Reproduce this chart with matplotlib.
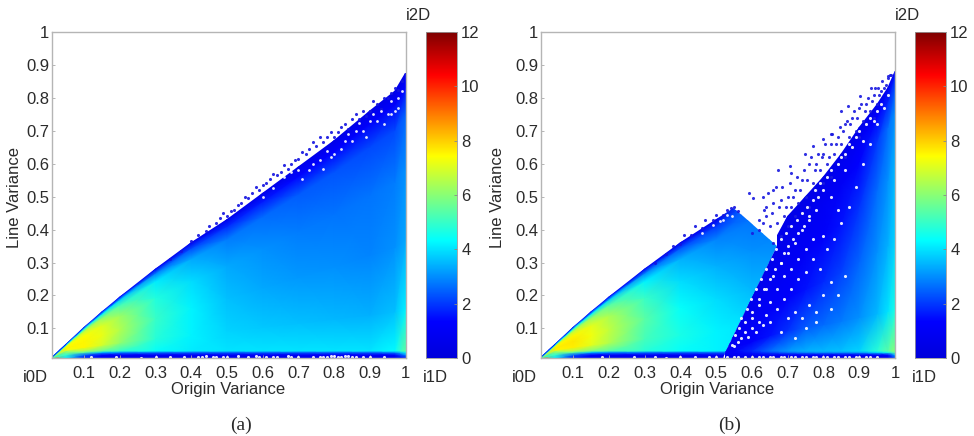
import numpy as np
import matplotlib
matplotlib.use('Agg')
import matplotlib.pyplot as plt
from matplotlib.colors import LinearSegmentedColormap
from matplotlib.patches import Polygon

plt.rcParams['font.family'] = ['Liberation Sans', 'DejaVu Sans']

CMAP = LinearSegmentedColormap.from_list('jet_blue', [
    (0, '#0000dc'), (.11, '#0000ff'), (.36, '#00ffff'), (.62, '#ffff00'), (.87, '#ff0000'), (1, '#800000')])

# ---- shared mesh rows ----
band_rows = [0.01, 0.02, 0.028]
frac_rows = [0, 0.15, 0.4, 0.65, 0.85, 0.95, 1.0]

# ---- panel (a) ----
a_x = [0.01, 0.05, 0.1, 0.15, 0.2, 0.3, 0.4, 0.5, 0.6, 0.7, 0.8, 0.9, 0.97, 1.0]
a_edge = [0.012, 0.052, 0.103, 0.15, 0.195, 0.28, 0.36, 0.43, 0.51, 0.59, 0.67, 0.76, 0.82, 0.875]
a_band = [
    [9, 4, 1.5, .8, .5, .5, .5, .5, .5, .5, .5, .5, .7, 1.5],
    [5, 5, 2.5, 1.2, 1, 1, 1, 1, 1, 1, 1, 1, 1.2, 3],
    [4, 6, 5.5, 3.6, 3, 2.8, 2.6, 2.6, 2.6, 2.6, 2.6, 2.6, 3, 4.5],
]
a_vals = [
    [4, 6.4, 6.4, 5.6, 5, 4.4, 4.1, 4, 4, 4, 4, 4, 4.3, 5.5],
    [5, 7.3, 7.5, 6.9, 6.1, 4.8, 4.2, 3.8, 3.7, 3.6, 3.5, 3.4, 3.6, 4.2],
    [5.5, 7.5, 7.5, 7.2, 6.5, 5, 4.2, 3.6, 3.3, 3.1, 3, 2.9, 3, 3.3],
    [5.5, 7.4, 7.4, 7, 6.2, 4.7, 3.9, 3.3, 3, 2.8, 2.7, 2.7, 2.8, 3],
    [5, 6.5, 6.6, 6, 5.2, 4.1, 3.3, 2.8, 2.6, 2.4, 2.3, 2.2, 2.2, 2.5],
    [3.5, 4.5, 4.6, 4.2, 3.8, 2.8, 2.2, 1.8, 1.6, 1.4, 1.3, 1.2, 1.2, 1.4],
    [1.2, 1.6, 1.6, 1.4, 1.3, 1, .8, .7, .6, .6, .5, .5, .5, .6],
]
a_blue_x = [.34, .37, .40, .42, .45, .47, .49, .51, .53, .55, .56, .58, .60, .62, .63, .65, .66, .68, .70,
            .72, .74, .75, .77, .79, .80, .82, .84, .85, .87, .89, .90, .92, .93, .95, .96, .98, .99,
            .44, .48, .50, .52, .54, .57, .59, .61, .64, .67, .69, .71, .73, .76, .78, .81, .83, .86, .88, .91, .94, .97]
a_blue_y = [.31, .335, .365, .385, .41, .42, .45, .455, .475, .50, .495, .53, .535, .555, .57, .575, .595, .60, .615,
            .63, .665, .655, .665, .695, .68, .71, .705, .735, .735, .745, .76, .78, .765, .80, .815, .825, .85,
            .395, .435, .44, .46, .48, .51, .52, .54, .565, .585, .61, .635, .645, .68, .68, .695, .72, .75, .76, .79, .80, .83]
a_white_x = [.60, .66, .70, .73, .76, .78, .80, .83, .85, .86, .88, .90, .92, .93, .95, .96, .97, .98, .99,
             .63, .68, .71, .74, .77, .79, .82, .84, .87, .89, .91, .94, .96, .98]
a_white_y = [.50, .56, .58, .58, .61, .64, .63, .67, .67, .70, .70, .73, .73, .76, .75, .79, .76, .80, .82,
             .525, .575, .555, .60, .585, .62, .645, .69, .725, .68, .75, .72, .75, .77]
a_bot_x = [.12, .19, .26, .30, .34, .38, .42, .44, .47, .50, .53, .56, .58, .61, .64, .67, .70, .74, .77, .79, .81, .83, .85, .88, .90, .94,
           .43, .46, .49, .59, .63, .68, .76, .78, .80, .82, .84, .86]
a_bot_y = [.012, .012, .011, .013, .012, .014, .012, .016, .013, .012, .015, .012, .016, .012, .013, .015, .012, .012, .013, .016, .013, .015, .013, .012, .014, .012,
           .012, .012, .014, .012, .012, .012, .012, .012, .016, .012, .016, .012]

# ---- panel (b), left of the cut ----
bl_x = [0.01, 0.05, 0.1, 0.15, 0.2, 0.3, 0.4, 0.5, 0.6, 0.7]
bl_edge = [0.012, 0.052, 0.103, 0.15, 0.195, 0.28, 0.36, 0.43, 0.50, 0.60]
bl_band = [
    [9, 4, 1.5, .8, .5, .5, .5, .5, .5, .5],
    [5, 5, 2.5, 1.2, 1, 1, 1, 1, 1, 1],
    [4, 6, 5.5, 3.6, 3, 2.8, 2.6, 2.6, 2.6, 2.6],
]
bl_vals = [
    [4, 6.6, 6.6, 5.9, 5.4, 4.8, 4.4, 4.2, 4, 4],
    [5, 7.5, 7.6, 7.1, 6.5, 5.2, 4.6, 4.2, 4, 3.8],
    [5.5, 7.6, 7.7, 7.3, 6.7, 5.4, 4.4, 3.9, 3.5, 3.3],
    [5.5, 7.5, 7.5, 7.1, 6.4, 5, 3.9, 3.4, 3, 2.8],
    [5, 6.5, 6.6, 6.1, 5.4, 4.2, 3.4, 2.9, 2.7, 2.6],
    [3.5, 4.5, 4.6, 4.2, 3.8, 2.9, 2.3, 2, 2.6, 2.6],
    [1.2, 1.6, 1.6, 1.4, 1.3, 1, .8, .7, 2.5, 2.5],
]
bl_blue_x = [.33, .36, .38, .40, .41, .43, .44, .46, .47, .49, .50, .52, .53, .54, .55, .56]
bl_blue_y = [.30, .325, .35, .355, .385, .385, .41, .405, .43, .43, .445, .445, .46, .465, .47, .455]
bl_white_x = [.46, .49, .51, .52, .53, .545]
bl_white_y = [.39, .415, .425, .43, .445, .44]
bl_bot_x = [.18, .27, .33, .36, .40, .44, .48, .50, .53, .55]
bl_bot_y = [.012, .012, .013, .011, .012, .014, .012, .013, .014, .012]
bl_cut_x = [0.0, 0.515, 0.525, 0.67, 0.575, 0.545, 0.545, 0.0]
bl_cut_y = [0.0, 0.0, 0.025, 0.35, 0.44, 0.47, 1.0, 1.0]

# ---- panel (b), right of the cut ----
br_x = [.5, .55, .6, .65, .7, .75, .8, .85, .9, .95, .98, 1]
br_edge = [.03, .10, .22, .34, .44, .50, .56, .63, .71, .78, .83, .88]
br_band = [
    [.5, .5, .5, .5, .5, .5, .5, .5, .5, .5, .7, 2],
    [.8, .9, 1, 1, 1, 1, 1, 1, 1, 1, 1.4, 3.5],
    [1, 1.2, 1.6, 2.2, 2.7, 3, 3.1, 3.1, 3.3, 4, 4.6, 5.6],
]
br_vals = [
    [1, 1.2, 1.8, 2.6, 3.1, 3.4, 3.5, 3.6, 3.8, 4.8, 5.4, 6],
    [.9, 1, 1.2, 1.5, 1.9, 2.4, 2.6, 2.8, 3, 3.5, 4, 4.6],
    [.8, .9, 1, 1.1, 1.2, 1.5, 1.8, 2.1, 2.5, 3, 3.4, 3.8],
    [.7, .8, .8, .9, .9, 1, 1.2, 1.5, 1.9, 2.6, 3, 3.5],
    [.6, .6, .7, .7, .7, .8, .9, 1, 1.3, 2, 2.6, 3],
    [.5, .5, .6, .6, .6, .6, .7, .8, .9, 1.3, 1.7, 2.2],
    [.5, .5, .5, .5, .5, .5, .5, .5, .6, .7, .8, 1.3],
]
br_cut_x = [.525, .67, .67, 1.0, 1.0, .525]
br_cut_y = [.025, .35, 1.0, 1.0, 0.0, 0.0]
br_blue_x = [.593, .602, .644, .633, .63, .668, .672, .71, .705, .747, .771, .799, .822, .85, .869, .902, .934, .953, .981,
             .60, .62, .64, .65, .66, .67, .68, .69, .70, .71, .72, .73, .74, .75, .76, .77, .78, .79, .80,
             .81, .82, .83, .84, .85, .86, .87, .88, .89, .90, .91, .92, .93, .94, .95, .96, .97, .98, .99,
             .66, .68, .70, .72, .74, .76, .78, .80, .82, .84, .86, .88, .90, .92, .94, .96,
             .62, .63, .64, .655, .66, .675, .685, .695, .705, .715, .725, .735, .745, .755, .765, .775, .785, .795,
             .805, .815, .825, .835, .845, .855, .865, .875, .885, .895, .905, .915, .925, .935, .945, .955, .965, .975, .985]
br_blue_y = [.511, .496, .511, .46, .42, .53, .582, .572, .592, .628, .653, .674, .689, .76, .775, .806, .831, .831, .866,
             .39, .40, .44, .41, .48, .42, .49, .44, .50, .47, .52, .48, .55, .50, .60, .54, .60, .58, .63,
             .60, .66, .63, .68, .66, .72, .68, .74, .70, .77, .73, .78, .76, .81, .78, .82, .83, .86, .87,
             .36, .38, .41, .44, .45, .47, .52, .54, .56, .60, .62, .65, .68, .72, .74, .78,
             .43, .50, .47, .45, .52, .47, .53, .47, .54, .50, .56, .52, .58, .55, .62, .58, .63, .62,
             .66, .62, .69, .66, .71, .70, .73, .72, .76, .74, .78, .76, .80, .79, .83, .81, .85, .84, .87]
br_white_x = [.60, .62, .64, .65, .66, .67, .68, .69, .70, .71, .72, .73, .74, .75, .76, .77, .78, .80, .82, .84, .86,
              .56, .58, .60, .62, .64, .65, .67, .69, .71, .73, .75, .77, .79, .81, .83, .85, .87, .89, .91, .93, .95,
              .55, .57, .59, .61, .63, .68, .70, .72, .74, .76, .78, .80, .82, .84, .72, .75, .78, .82, .86,
              .545, .552, .565, .568, .58, .585, .60, .596, .612, .62, .625, .635, .64, .65, .655, .665, .668, .68, .68, .69,
              .70, .695, .71, .715, .725, .73, .74, .745, .755, .76, .77, .775, .785, .79, .80, .81, .82, .83, .84, .85,
              .86, .87, .88, .89, .90, .91, .92, .93, .94, .95, .96, .97, .98]
br_white_y = [.13, .17, .22, .18, .26, .22, .30, .26, .33, .28, .36, .31, .40, .34, .43, .37, .46, .38, .50, .46, .58,
              .06, .09, .10, .12, .14, .12, .16, .19, .22, .25, .27, .31, .28, .34, .37, .42, .47, .53, .60, .66, .72,
              .045, .07, .075, .09, .11, .09, .13, .15, .13, .17, .15, .20, .24, .20, .07, .10, .12, .16, .26,
              .05, .08, .10, .13, .12, .16, .15, .19, .22, .19, .25, .22, .28, .25, .31, .28, .34, .30, .37, .33,
              .35, .39, .41, .37, .43, .39, .45, .41, .47, .44, .49, .52, .50, .54, .52, .56, .58, .55, .60, .62,
              .63, .66, .65, .68, .70, .67, .72, .74, .73, .76, .78, .77, .81]
br_bot_x = [.56, .58, .60, .62, .63, .65, .66, .68, .69, .71, .72, .74, .75, .77, .78, .80, .81, .83, .84, .86, .87, .89, .90, .92, .93, .95]
br_bot_y = [.012, .012, .013, .012, .012, .012, .014, .012, .012, .012, .013, .012, .014, .012, .012, .012, .013, .012, .012, .014, .012, .012, .012, .013, .012, .012]

x_ticks = [.1, .2, .3, .4, .5, .6, .7, .8, .9, 1]
x_tick_labels = ['0.1', '0.2', '0.3', '0.4', '0.5', '0.6', '0.7', '0.8', '0.9', '1']
cbar_ticks = [0, 2, 4, 6, 8, 10, 12]
FS = 12
TXT = '#2b2b2b'
W, H = 974, 436


def mesh(ax, xs, edge, band, vals, clip=None):
    xs, edge = np.array(xs, float), np.array(edge, float)
    rows = [np.minimum(y, edge) for y in band_rows]
    base = np.minimum(0.032, edge)
    rows += [base + f * (edge - base) for f in frac_rows]
    Y = np.array(rows)
    X = np.tile(xs, (len(rows), 1))
    C = np.array(band + vals, float)
    m = ax.pcolormesh(X, Y, C, cmap=CMAP, vmin=0, vmax=12, shading='gouraud', zorder=1, rasterized=True)
    if clip is not None:
        m.set_clip_path(Polygon(np.column_stack(clip), transform=ax.transData))
    return m


def dots(ax, xs, ys, color, size):
    ax.scatter(xs, ys, s=size, c=color, marker='o', linewidths=0, zorder=3, alpha=.9)


def frame(left, right, cb_left, cb_right, tag, tag_x, i0_x, i1_x, i2_x, ylab_x, xlab_x):
    top, bottom = 32, 358
    ax = fig.add_axes([left / W, 1 - bottom / H, (right - left) / W, (bottom - top) / H])
    ax.set_xlim(0.01, 1)
    ax.set_ylim(0.01, 1)
    ax.set_xticks(x_ticks, x_tick_labels)
    ax.set_yticks(x_ticks, x_tick_labels)
    ax.tick_params(direction='in', length=2.5, width=.6, color='#aaaaaa', labelsize=FS, labelcolor=TXT, pad=6)
    ax.tick_params(axis='y', pad=2)
    for s in ax.spines.values():
        s.set_color('#b5b5b5')
        s.set_linewidth(1)
        s.set_zorder(5)
    cax = fig.add_axes([cb_left / W, 1 - bottom / H, (cb_right - cb_left) / W, (bottom - top) / H])
    grad = np.linspace(0, 12, 256).reshape(-1, 1)
    cax.imshow(grad, cmap=CMAP, vmin=0, vmax=12, origin='lower', aspect='auto', extent=[0, 1, 0, 12])
    cax.set_xticks([])
    cax.yaxis.tick_right()
    cax.set_yticks(cbar_ticks)
    cax.tick_params(direction='in', length=2.5, width=.6, color='#888888', labelsize=FS, labelcolor=TXT, pad=3)
    for s in cax.spines.values():
        s.set_color('#999999')
        s.set_linewidth(.6)
    t = dict(fontsize=FS, color=TXT, ha='center', va='center')
    fig.text(ylab_x / W, 1 - 197 / H, 'Line Variance', rotation=90, **t)
    fig.text(xlab_x / W, 1 - 389 / H, 'Origin Variance', **t)
    fig.text(i0_x / W, 1 - 377 / H, 'i0D', **t)
    fig.text(i1_x / W, 1 - 377 / H, 'i1D', **t)
    fig.text(i2_x / W, 1 - 16 / H, 'i2D', **t)
    fig.text(tag_x / W, 1 - 425 / H, tag, fontsize=14, color=TXT, ha='center', va='center', family='Liberation Serif')
    return ax


fig = plt.figure(figsize=(W / 100, H / 100), dpi=100, facecolor='white')

ax_a = frame(52, 405.5, 426, 457, '(a)', 241, 35, 435, 418, 15, 228)
mesh(ax_a, a_x, a_edge, a_band, a_vals)
dots(ax_a, a_blue_x, a_blue_y, '#1414e0', 5)
dots(ax_a, a_white_x, a_white_y, 'white', 4)
dots(ax_a, a_bot_x, a_bot_y, 'white', 5)

ax_b = frame(541, 895, 915, 946, '(b)', 730, 524, 924, 907, 497, 717)
mesh(ax_b, bl_x, bl_edge, bl_band, bl_vals, clip=(bl_cut_x, bl_cut_y))
mesh(ax_b, br_x, br_edge, br_band, br_vals, clip=(br_cut_x, br_cut_y))
dots(ax_b, bl_blue_x, bl_blue_y, '#1414e0', 5)
dots(ax_b, bl_white_x, bl_white_y, 'white', 4)
dots(ax_b, bl_bot_x, bl_bot_y, 'white', 5)
dots(ax_b, br_blue_x, br_blue_y, '#1a1ae0', 5)
dots(ax_b, br_white_x, br_white_y, 'white', 5)
dots(ax_b, br_bot_x, br_bot_y, 'white', 5)

fig.savefig('out.png', dpi=100)
